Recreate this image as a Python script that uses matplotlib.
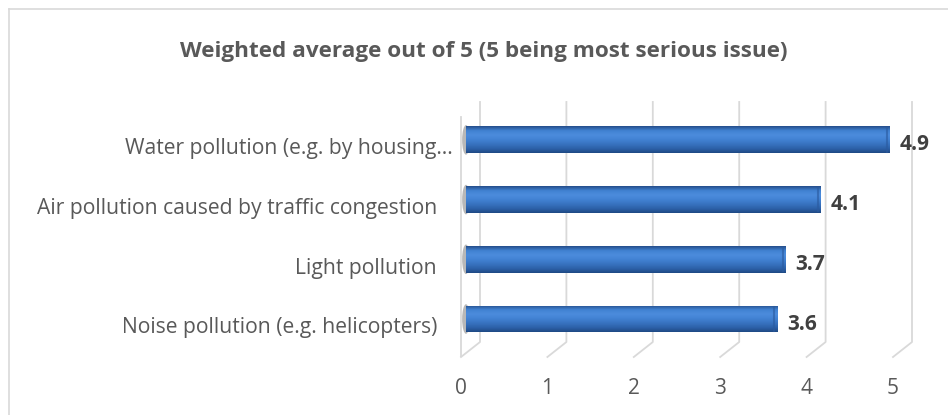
import matplotlib
matplotlib.use("Agg")
import matplotlib.pyplot as plt
import numpy as np
from matplotlib.lines import Line2D
from matplotlib.patches import Ellipse

# ── data ────────────────────────────────────────────────────────────────────
categories = [
    "Noise pollution (e.g. helicopters)",
    "Light pollution",
    "Air pollution caused by traffic congestion",
    "Water pollution (e.g. by housing…",
]
values = [3.6, 3.7, 4.1, 4.9]
ticks = [0, 1, 2, 3, 4, 5]
title = "Weighted average out of 5 (5 being most serious issue)"

# ── style ───────────────────────────────────────────────────────────────────
plt.rcParams["font.family"] = ["Open Sans", "DejaVu Sans"]
TEXT = "#595959"
GRID = "#d9d9d9"
BAR_SHADES = ["#254f8c", "#4182d2", "#4c8cdc", "#4282d3", "#3873c0", "#2d62aa", "#1f4a85"]

W, H = 948, 415
fig = plt.figure(figsize=(W / 100, H / 100), dpi=100)

# chart border (only left/top visible in the crop)
fig.add_artist(Line2D([8.5 / W, 8.5 / W], [0, 1 - 9 / H], color=GRID, lw=1.2))
fig.add_artist(Line2D([8.5 / W, 1], [1 - 9 / H, 1 - 9 / H], color=GRID, lw=1.2))

fig.text(484 / W, 1 - 52 / H, title, ha="center", va="center",
         fontsize=16.2, fontweight="bold", color=TEXT)

ax = fig.add_axes([440 / W, 1 - 357 / H, 500 / W, 257 / H])
ax.set_xlim(-0.301, 5.486)
ax.set_ylim(-0.636, 3.668)
ax.axis("off")

# perspective offsets (data units)
front_off, back_off = -0.058, 0.162
y_top, y_back, y_front = 3.635, -0.385, -0.636

# ── gridlines with 3D floor ────────────────────────────────────────────────
for v in ticks:
    ax.plot([v + front_off, v + back_off, v + back_off],
            [y_front, y_back, y_top], color=GRID, lw=1.3, clip_on=False, zorder=1)
    ax.text(v + front_off, -1.156, str(v), ha="center", va="center",
            fontsize=15, color=TEXT)
# left wall front edge
ax.plot([front_off, front_off], [y_front, 3.384], color=GRID, lw=1.3, zorder=1)

# ── bars ────────────────────────────────────────────────────────────────────
ypos = np.arange(len(categories))
bar_h = 0.45
bars = ax.barh(ypos, values, height=bar_h, color=BAR_SHADES[3], zorder=3)
grad = np.linspace(0, 1, 64)
cmap = matplotlib.colors.LinearSegmentedColormap.from_list("cyl", BAR_SHADES)
for b, y, v in zip(bars, ypos, values):
    ax.add_patch(Ellipse((0.0, y), 0.09, bar_h * 1.1, color="#8a8a8a",
                         alpha=0.6, zorder=2, lw=0))
    im = ax.imshow(grad[:, None], cmap=cmap, aspect="auto", zorder=4,
                   extent=(0, v, y - bar_h / 2, y + bar_h / 2), origin="upper")
    im.set_clip_path(b)
    ax.plot([v - 0.03, v - 0.03], [y - bar_h / 2 + 0.03, y + bar_h / 2 - 0.03],
            color="#2a5a9e", lw=1.5, zorder=5, alpha=0.6)
    ax.text(v + 0.116, y - 0.084, f"{v:.1f}", ha="left", va="center",
            fontsize=15, fontweight="bold", color="#404040")

# category labels
for y, lab in zip(ypos, categories):
    x = -0.15 if lab.endswith("…") else -0.336
    ax.text(x, y - 0.15, lab, ha="right", va="center", fontsize=15.2,
            color=TEXT, clip_on=False)

fig.savefig("out.png", dpi=100)
